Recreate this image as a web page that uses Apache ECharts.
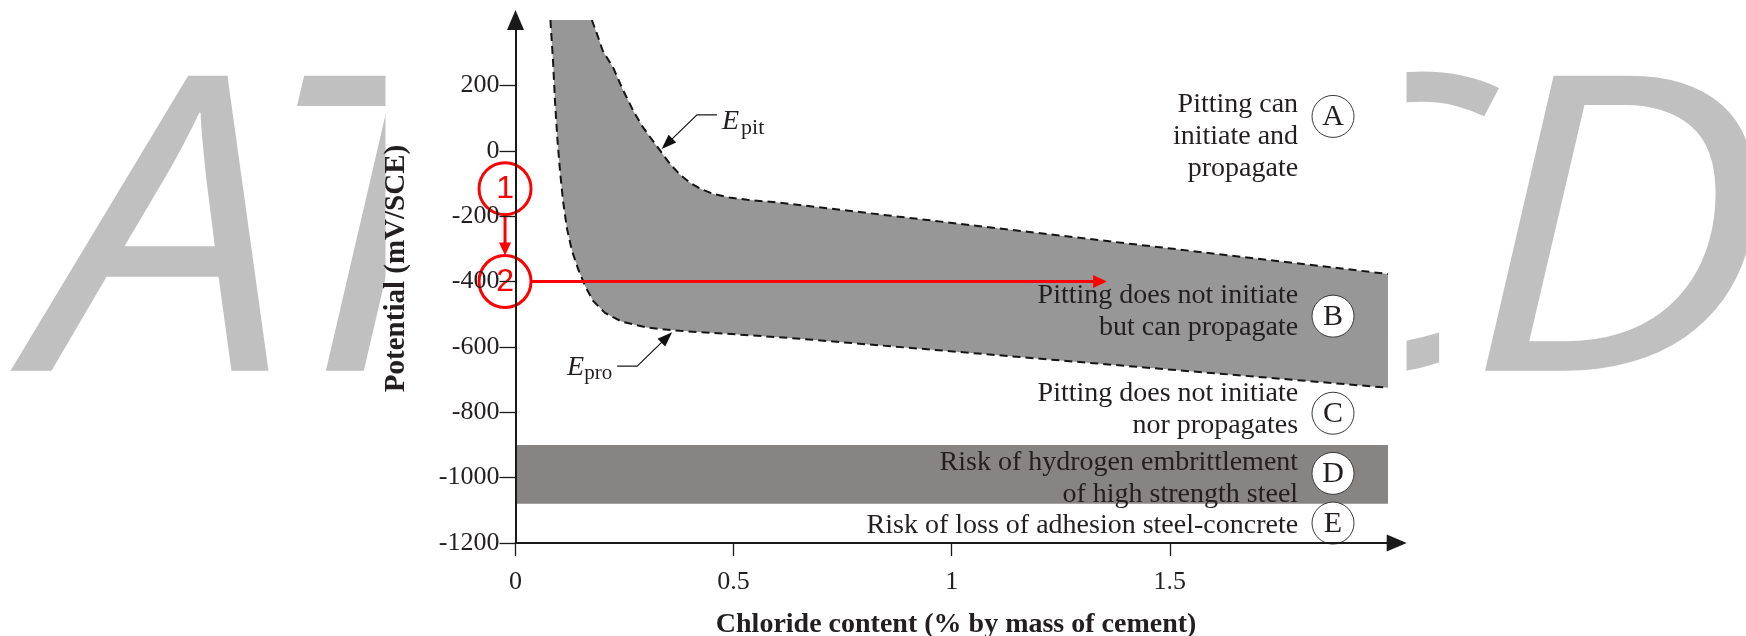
<!DOCTYPE html>
<html>
<head>
<meta charset="utf-8">
<style>
  html, body { margin: 0; padding: 0; background: #ffffff; }
  #chart { width: 1746px; height: 636px; }
</style>
<script src="https://cdn.jsdelivr.net/npm/echarts@6/dist/echarts.min.js"></script>
</head>
<body>
<div id="chart"></div>
<script>
// Pitting potential E_pit (upper boundary of zone B): chloride %, mV/SCE
const pitX = [0.175, 0.187, 0.200, 0.224, 0.245, 0.270, 0.292, 0.315, 0.335, 0.354, 0.376, 0.400, 0.425, 0.453, 0.490, 0.531, 0.606, 2.0];
const pitY = [400, 357, 306, 254, 190, 122, 72, 30, -6, -40, -72, -98, -117, -132, -143, -150, -159, -377];

// Protection potential E_pro (lower boundary of zone B)
const proX = [0.080, 0.086, 0.0905, 0.0963, 0.102, 0.1089, 0.1181, 0.1295, 0.1433, 0.1593, 0.1777, 0.2051, 0.2441, 0.3014, 0.377, 0.4848, 0.652, 2.0];
const proY = [400, 275, 153, 30, -61, -153, -239, -306, -361, -413, -459, -496, -523, -541, -551, -560, -575, -725];

// Zone D: risk of hydrogen embrittlement, mV/SCE
const hydrogenBand = [-1080, -900];
const chlorideSpan = [0, 2.0];

// Axis ticks
const xTickValues = [0, 0.5, 1, 1.5];
const yTickValues = [-1200, -1000, -800, -600, -400, -200, 0, 200];

// Zone descriptions
const zoneLetters = ['A', 'B', 'C', 'D', 'E'];
const zoneTexts = [
  ['Pitting can', 'initiate and', 'propagate'],
  ['Pitting does not initiate', 'but can propagate'],
  ['Pitting does not initiate', 'nor propagates'],
  ['Risk of hydrogen embrittlement', 'of high strength steel'],
  ['Risk of loss of adhesion steel-concrete']
];

// Assessment steps: potential measured (1), then potential after polarisation (2)
const stepLabels = ['1', '2'];
const stepPotentials = [-116, -400];

// ---- placement of annotations (axis units) ----
const zoneTextPos = { x: 1.794, y: [44, -491, -791, -1002, -1148] };
const zoneBadgePos = { x: 1.874, y: [105, -506, -803, -987, -1139] };
const stepPos = { x: -0.024, arrowEnd: 1.356 };
const pitLeader = [[0.335, 5], [0.416, 110], [0.462, 110]];
const proLeader = [[0.359, -555], [0.279, -659], [0.233, -659]];

const SERIF = '"Liberation Serif", "Times New Roman", serif';
const INK = '#231f20';
const ZONE_B = '#979797';
const ZONE_D = '#878484';
const RED = '#ff0000';
const MARK = '#c0c0c0';

const pitData = pitX.map((x, i) => [x, pitY[i]]);
const proData = proX.map((x, i) => [x, proY[i]]);

function arrowHead(tip, from, len, half, color) {
  const dx = tip[0] - from[0], dy = tip[1] - from[1];
  const d = Math.hypot(dx, dy);
  const ux = dx / d, uy = dy / d;
  const bx = tip[0] - ux * len, by = tip[1] - uy * len;
  return {
    type: 'polygon',
    shape: { points: [tip, [bx - uy * half, by + ux * half], [bx + uy * half, by - ux * half]] },
    style: { fill: color }
  };
}
function shorten(tip, from, len) {
  const dx = tip[0] - from[0], dy = tip[1] - from[1];
  const d = Math.hypot(dx, dy);
  return [tip[0] - dx / d * len, tip[1] - dy / d * len];
}

function renderZoneB(params, api) {
  const pts = [];
  pitData.forEach(p => pts.push(api.coord(p)));
  for (let i = proData.length - 1; i >= 0; i--) pts.push(api.coord(proData[i]));
  return { type: 'polygon', shape: { points: pts }, style: { fill: ZONE_B } };
}

function renderZoneD(params, api) {
  const a = api.coord([chlorideSpan[0], hydrogenBand[1]]);
  const b = api.coord([chlorideSpan[1], hydrogenBand[0]]);
  return { type: 'rect', shape: { x: a[0], y: a[1], width: b[0] - a[0], height: b[1] - a[1] }, style: { fill: ZONE_D } };
}

function renderNotes(params, api) {
  const kids = [];

  // E_pit / E_pro leaders
  [[pitLeader, 'pit', 'left'], [proLeader, 'pro', 'right']].forEach(([ld, sub, side]) => {
    const tip = api.coord(ld[0]), elbow = api.coord(ld[1]), end = api.coord(ld[2]);
    kids.push({ type: 'polyline', shape: { points: [end, elbow, shorten(tip, elbow, 10)] },
      style: { stroke: '#1a1a1a', lineWidth: 1.2, fill: null } });
    kids.push(arrowHead(tip, elbow, 15, 5.5, '#111'));
    if (side === 'left') {
      const x0 = end[0] + 5;
      kids.push({ type: 'text', style: { text: 'E', x: x0, y: end[1] + 7, font: 'italic 28px ' + SERIF, fill: INK, align: 'left', verticalAlign: 'middle' } });
      kids.push({ type: 'text', style: { text: sub, x: x0 + 19, y: end[1] + 13, font: '22px ' + SERIF, fill: INK, align: 'left', verticalAlign: 'middle' } });
    } else {
      const x1 = end[0] - 5;
      kids.push({ type: 'text', style: { text: sub, x: x1, y: end[1] + 7, font: '21px ' + SERIF, fill: INK, align: 'right', verticalAlign: 'middle' } });
      kids.push({ type: 'text', style: { text: 'E', x: x1 - 28, y: end[1] + 1, font: 'italic 28px ' + SERIF, fill: INK, align: 'right', verticalAlign: 'middle' } });
    }
  });

  // zone descriptions with lettered badges
  zoneLetters.forEach((letter, i) => {
    const t = api.coord([zoneTextPos.x, zoneTextPos.y[i]]);
    kids.push({ type: 'text', style: { text: zoneTexts[i].join('\n'), x: t[0], y: t[1], font: '28px ' + SERIF,
      lineHeight: 32, fill: INK, align: 'right', verticalAlign: 'middle' } });
    const c = api.coord([zoneBadgePos.x, zoneBadgePos.y[i]]);
    kids.push({ type: 'circle', shape: { cx: c[0], cy: c[1], r: 21 }, style: { fill: '#ffffff', stroke: '#3a3a3a', lineWidth: 1 } });
    kids.push({ type: 'text', style: { text: letter, x: c[0], y: c[1] + 1, font: '30px ' + SERIF, fill: INK, align: 'center', verticalAlign: 'middle' } });
  });

  // assessment steps 1 -> 2 -> across the diagram
  const r = 26;
  const c1 = api.coord([stepPos.x, stepPotentials[0]]);
  const c2 = api.coord([stepPos.x, stepPotentials[1]]);
  [c1, c2].forEach((c, i) => {
    kids.push({ type: 'circle', shape: { cx: c[0], cy: c[1], r: r }, style: { fill: null, stroke: RED, lineWidth: 3 } });
    kids.push({ type: 'text', style: { text: stepLabels[i], x: c[0], y: c[1] + 1, font: '32px "Liberation Sans", Arial, sans-serif', fill: RED, align: 'center', verticalAlign: 'middle' } });
  });
  const vStart = [c1[0], c1[1] + r], vTip = [c2[0], c2[1] - r];
  kids.push({ type: 'line', shape: { x1: vStart[0], y1: vStart[1], x2: vTip[0], y2: vTip[1] - 10 }, style: { stroke: RED, lineWidth: 3 } });
  kids.push(arrowHead(vTip, vStart, 13, 6, RED));
  const hStart = [c2[0] + r, c2[1]];
  const hTip = api.coord([stepPos.arrowEnd, stepPotentials[1]]);
  kids.push({ type: 'line', shape: { x1: hStart[0], y1: hStart[1], x2: hTip[0] - 10, y2: hTip[1] }, style: { stroke: RED, lineWidth: 3 } });
  kids.push(arrowHead(hTip, hStart, 14, 6.5, RED));

  return { type: 'group', children: kids };
}

const chart = echarts.init(document.getElementById('chart'), null, { renderer: 'canvas' });

const axisText = { fontFamily: SERIF, fontSize: 26, color: INK };
const markFont = 'italic 413px "Open Sans"';
function markLetter(ch, x) {
  return { type: 'text', z: -5, x: x, y: 253, scaleX: 1.1, silent: true,
    style: { text: ch, font: markFont, fill: MARK, align: 'left', verticalAlign: 'middle', textAlign: 'left', textVerticalAlign: 'middle' } };
}

chart.setOption({
  backgroundColor: '#ffffff',
  animation: false,
  graphic: [
    markLetter('A', 36),
    markLetter('T', 256),
    markLetter('C', 1212),
    markLetter('D', 1466),
    { type: 'rect', z: -4, silent: true, shape: { x: 385.5, y: 0, width: 1021, height: 636 }, style: { fill: '#ffffff' } }
  ],
  grid: { left: 515.5, right: 349.3, top: 20, bottom: 93, containLabel: false, outerBoundsMode: 'none' },
  xAxis: {
    type: 'value', min: 0, max: 2.02, z: 6,
    name: 'Chloride content (% by mass of cement)',
    nameLocation: 'middle', nameGap: 68,
    nameTextStyle: { fontFamily: SERIF, fontSize: 28, fontWeight: 'bold', color: INK },
    axisLine: { show: true, onZero: false, symbol: ['none', 'triangle'], symbolSize: [17, 20], lineStyle: { color: '#1a1a1a', width: 2 } },
    axisTick: { show: true, customValues: xTickValues, length: 13, lineStyle: { color: '#1a1a1a', width: 1.3 } },
    axisLabel: { customValues: xTickValues, margin: 26, formatter: v => String(v), ...axisText },
    splitLine: { show: false }
  },
  yAxis: {
    type: 'value', min: -1200, max: 400, z: 6,
    name: 'Potential (mV/SCE)',
    nameLocation: 'middle', nameGap: 104,
    nameTextStyle: { fontFamily: SERIF, fontSize: 29, fontWeight: 'bold', color: INK, padding: [0, 0, 0, 26] },
    axisLine: { show: true, onZero: false, symbol: ['none', 'triangle'], symbolSize: [17, 20], lineStyle: { color: '#1a1a1a', width: 2 } },
    axisTick: { show: true, customValues: yTickValues, length: 16, lineStyle: { color: '#1a1a1a', width: 1.3 } },
    axisLabel: { customValues: yTickValues, margin: 16, formatter: v => String(v), ...axisText },
    splitLine: { show: false }
  },
  series: [
    { type: 'custom', name: 'Zone B', z: 2, silent: true, renderItem: renderZoneB, data: [[0, 0]] },
    { type: 'custom', name: 'Zone D', z: 2, silent: true, renderItem: renderZoneD, data: [[0, 0]] },
    { type: 'line', name: 'E_pit', z: 4, data: pitData, symbol: 'none', silent: true,
      lineStyle: { color: '#151515', width: 2, type: [8, 5] } },
    { type: 'line', name: 'E_pro', z: 4, data: proData, symbol: 'none', silent: true,
      lineStyle: { color: '#151515', width: 2, type: [8, 5] } },
    { type: 'custom', name: 'Notes', z: 5, silent: true, clip: false, renderItem: renderNotes, data: [[0, 0]] }
  ]
});
</script>
</body>
</html>
